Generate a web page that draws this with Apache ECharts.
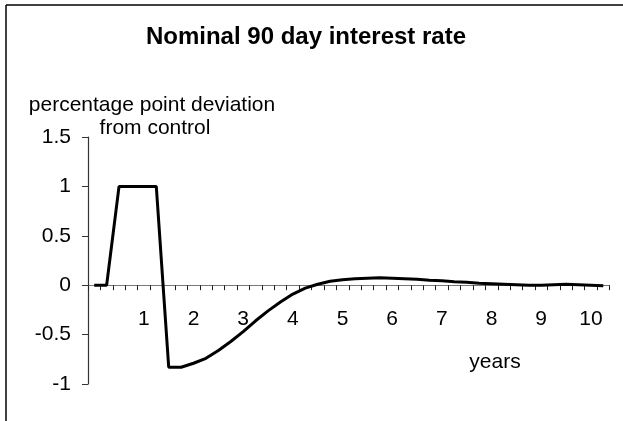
<!DOCTYPE html>
<html>
<head>
<meta charset="utf-8">
<script src="https://cdn.jsdelivr.net/npm/echarts@6/dist/echarts.min.js"></script>
<style>
html,body{margin:0;padding:0;background:#fff;}
#chart{width:623px;height:421px;}
</style>
</head>
<body>
<div id="chart"></div>
<script>
// Quarterly x-axis labels (years shown every 4th quarter)
const xLabels = ['', '', '', '', '1', '', '', '', '2', '', '', '', '3', '', '', '', '4', '', '', '', '5', '', '', '', '6', '', '', '', '7', '', '', '', '8', '', '', '', '9', '', '', '', '10', ''];
// Percentage point deviation from control
const rate = [0, 0, 1, 1, 1, 1, -0.83, -0.83, -0.79, -0.74, -0.66, -0.57, -0.47, -0.36, -0.26, -0.17, -0.09, -0.03, 0.01, 0.04, 0.055, 0.065, 0.07, 0.075, 0.07, 0.065, 0.06, 0.05, 0.045, 0.035, 0.03, 0.02, 0.015, 0.01, 0.005, 0, 0, 0.005, 0.01, 0.005, 0, -0.005];
const yTicks = { min: -1, max: 1.5, interval: 0.5 };
const titleText = 'Nominal 90 day interest rate';
const yNameLines = ['percentage point deviation', 'from control'];
const xName = 'years';

const FONT = "'Liberation Sans', Arial, sans-serif";
const chart = echarts.init(document.getElementById('chart'), null, { renderer: 'canvas' });
const categories = xLabels.map((l, i) => String(i));

chart.setOption({
  animation: false,
  backgroundColor: '#fff',
  grid: { left: 88, right: 13.5, top: 137, bottom: 37, containLabel: false, outerBoundsMode: 'none' },
  xAxis: [{
    type: 'category',
    data: categories,
    boundaryGap: true,
    axisLine: { onZero: true, lineStyle: { color: '#777', width: 1.2 } },
    axisTick: { show: true, interval: 0, inside: false, length: 5, lineStyle: { color: '#222', width: 1 } },
    axisLabel: { show: false },
    splitLine: { show: false }
  }, {
    type: 'category',
    data: categories,
    boundaryGap: true,
    position: 'bottom',
    offset: -99,
    axisLine: { show: false, onZero: false },
    axisTick: { show: false },
    axisLabel: {
      interval: 0, margin: 24, color: '#000', fontSize: 21, fontFamily: FONT,
      hideOverlap: false,
      formatter: (v, i) => xLabels[i]
    },
    splitLine: { show: false }
  }],
  yAxis: {
    type: 'value',
    min: yTicks.min, max: yTicks.max, interval: yTicks.interval,
    axisLine: { show: true, lineStyle: { color: '#333', width: 1.2 } },
    axisTick: { show: true, inside: false, length: 6, lineStyle: { color: '#333', width: 1 } },
    axisLabel: { margin: 17, color: '#000', fontSize: 21, fontFamily: FONT },
    splitLine: { show: false }
  },
  series: [{
    type: 'line',
    xAxisIndex: 0,
    data: rate,
    showSymbol: false,
    symbol: 'none',
    lineStyle: { color: '#000', width: 3 },
    smooth: false
  }],
  graphic: [
    { type: 'line', shape: { x1: 6, y1: 5, x2: 623, y2: 5 }, style: { stroke: '#000', lineWidth: 1.5 } },
    { type: 'line', shape: { x1: 6, y1: 5, x2: 6, y2: 421 }, style: { stroke: '#000', lineWidth: 1.5 } },
    { type: 'text', x: 306, y: 37, style: { text: titleText, font: "bold 24px " + FONT, fill: '#000', textAlign: 'center', textVerticalAlign: 'middle' } },
    { type: 'text', x: 152, y: 105, style: { text: yNameLines[0], font: "21px " + FONT, fill: '#000', textAlign: 'center', textVerticalAlign: 'middle' } },
    { type: 'text', x: 155, y: 128, style: { text: yNameLines[1], font: "21px " + FONT, fill: '#000', textAlign: 'center', textVerticalAlign: 'middle' } },
    { type: 'text', x: 495, y: 362, style: { text: xName, font: "21px " + FONT, fill: '#000', textAlign: 'center', textVerticalAlign: 'middle' } }
  ]
});
</script>
</body>
</html>
